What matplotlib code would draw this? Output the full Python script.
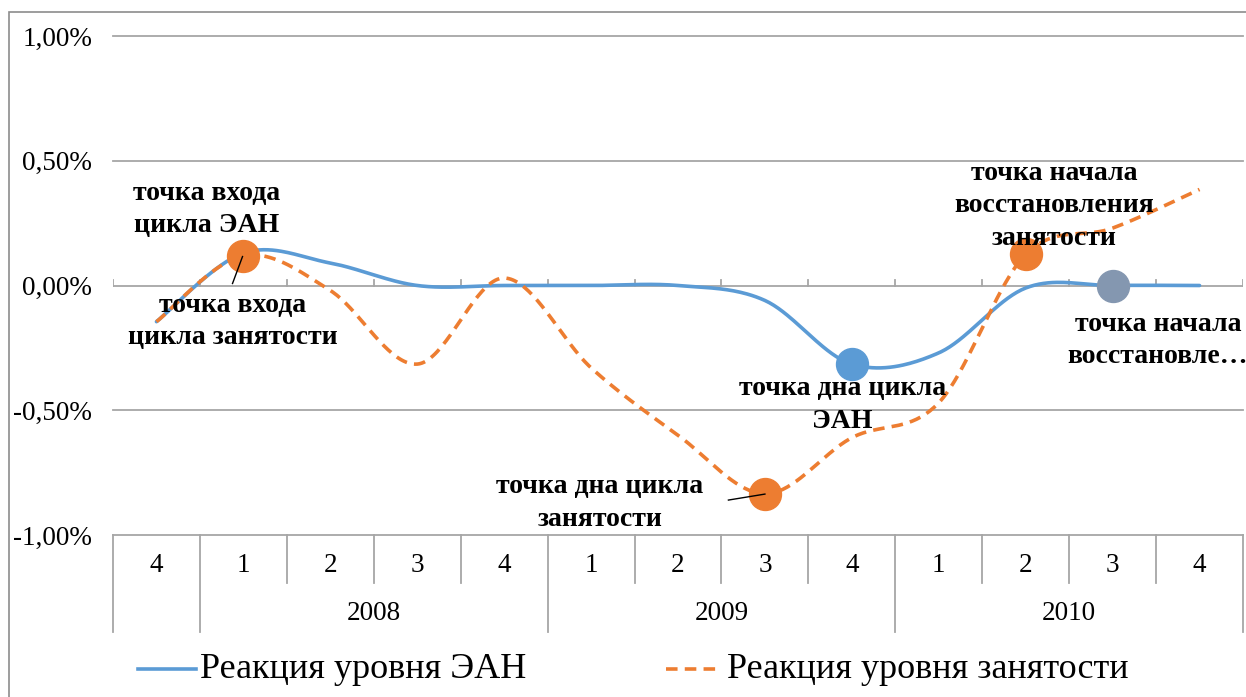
import numpy as np
import matplotlib
matplotlib.use("Agg")
import matplotlib.pyplot as plt
from matplotlib.patches import Rectangle
from matplotlib.lines import Line2D
import matplotlib.transforms as mtransforms

# quarters: 4q 2007, 2008-2010
quarters = ["4", "1", "2", "3", "4", "1", "2", "3", "4", "1", "2", "3", "4"]
years = ["2008", "2009", "2010"]
year_spans = [(1, 4), (5, 8), (9, 12)]  # first/last category index for each year

# values in percent
ean = [-0.145, 0.13, 0.09, 0.0, 0.0, 0.0, 0.0, -0.06, -0.315, -0.27, -0.01, 0.0, 0.0]
empl = [-0.145, 0.12, -0.02, -0.315, 0.03, -0.33, -0.60, -0.835, -0.61, -0.47, 0.125, 0.23, 0.385]

blue = "#5B9BD5"
orange = "#ED7D31"
grey_marker = "#8497B0"
grid_c = "#A6A6A6"

plt.rcParams['font.family'] = ['Liberation Serif', 'DejaVu Serif']


def smooth(y, n=40):
    # Excel-like smoothed line (Catmull-Rom bezier)
    x = np.arange(len(y), dtype=float)
    pts = np.column_stack([x, np.asarray(y, dtype=float)])
    out = []
    for i in range(len(pts) - 1):
        p0 = pts[max(i - 1, 0)]
        p1 = pts[i]
        p2 = pts[i + 1]
        p3 = pts[min(i + 2, len(pts) - 1)]
        c1 = p1 + (p2 - p0) / 6
        c2 = p2 - (p3 - p1) / 6
        t = np.linspace(0, 1, n)[:, None]
        seg = (1 - t) ** 3 * p1 + 3 * (1 - t) ** 2 * t * c1 + 3 * (1 - t) * t ** 2 * c2 + t ** 3 * p2
        out.append(seg if i == 0 else seg[1:])
    s = np.vstack(out)
    return s[:, 0], s[:, 1]


fig = plt.figure(figsize=(12.46, 6.97), dpi=100)
ax = fig.add_axes([113 / 1246, 1 - 535 / 697, 1130 / 1246, 499 / 697])
n = len(quarters)
ax.set_xlim(-0.5, n - 0.5)
ax.set_ylim(-1.0, 1.0)
for s in ax.spines.values():
    s.set_visible(False)

# gridlines
for g in [1.0, 0.5, -0.5, -1.0]:
    ax.axhline(g, color=grid_c, lw=1.3, zorder=1, clip_on=False)
ax.axhline(0, color=grid_c, lw=1.3, zorder=1)
for b in np.arange(-0.5, n, 1.0):
    ax.plot([b, b], [0, 0.022], color=grid_c, lw=1.3, zorder=1)

ax.set_yticks([1.0, 0.5, 0.0, -0.5, -1.0])
ax.set_yticklabels([f"{v:.2f}%".replace(".", ",") for v in [1.0, 0.5, 0.0, -0.5, -1.0]], fontsize=19.5)
ax.tick_params(axis='y', length=0, pad=15)
ax.set_xticks([])

# category table under the plot
tr = mtransforms.blended_transform_factory(ax.transData, ax.transAxes)
q_bot = -48 / 499
y_bot = -97 / 499
year_edges = [-0.5, 0.5] + [e + 0.5 for _, e in year_spans]
for b in np.arange(-0.5, n, 1.0):
    lo = y_bot if b in year_edges else q_bot
    ax.add_line(Line2D([b, b], [0, lo], transform=tr, color=grid_c, lw=1.3, clip_on=False))
for i, q in enumerate(quarters):
    ax.text(i, -31 / 499, q, transform=tr, ha='center', va='center', fontsize=19.5)
for yr, (a, b) in zip(years, year_spans):
    ax.text((a + b) / 2, -79 / 499, yr, transform=tr, ha='center', va='center', fontsize=19.5)

# lines
xs, ys = smooth(ean)
ax.plot(xs, ys, color=blue, lw=2.6, zorder=3, solid_capstyle='round')
xs, ys = smooth(empl)
ax.plot(xs, ys, color=orange, lw=2.6, dashes=(3.2, 2.0), zorder=4)

# highlighted points
ms = 23
ax.plot(1, empl[1], 'o', color=orange, ms=ms, zorder=5)
ax.plot(7, empl[7], 'o', color=orange, ms=ms, zorder=5)
ax.plot(10, empl[10], 'o', color=orange, ms=ms, zorder=5)
ax.plot(8, ean[8], 'o', color=blue, ms=ms, zorder=5)
ax.plot(11, ean[11], 'o', color=grey_marker, ms=ms, zorder=5)

# labels
kw = dict(ha='center', va='center', fontsize=20, fontweight='bold', linespacing=1.4, zorder=6)
ax.text(0.575, 0.304, "точка входа\nцикла ЭАН", **kw)
ax.text(0.875, -0.144, "точка входа\nцикла занятости", **kw)
ax.text(5.10, -0.872, "точка дна цикла\nзанятости", **kw)
ax.text(7.89, -0.48, "точка дна цикла\nЭАН", **kw)
ax.text(10.33, 0.32, "точка начала\nвосстановления\nзанятости", **kw)
ax.text(11.52, -0.22, "точка начала\nвосстановле…", **kw)
ax.plot([0.875, 0.99], [0.008, 0.116], color='black', lw=1, zorder=6)
ax.plot([6.58, 7.0], [-0.86, -0.836], color='black', lw=1, zorder=6)

# legend
fy = 1 - 669 / 697
fig.add_artist(Line2D([138 / 1246, 196 / 1246], [fy, fy], color=blue, lw=2.6))
fig.text(200 / 1246, fy, "Реакция уровня ЭАН", fontsize=26, va='center', ha='left')
fig.add_artist(Line2D([666 / 1246, 722 / 1246], [fy, fy], color=orange, lw=2.6, dashes=(3.2, 2.0)))
fig.text(727 / 1246, fy, "Реакция уровня занятости", fontsize=26, va='center', ha='left')

# chart frame
fig.add_artist(Rectangle((9 / 1246, -0.1), 1.2, 1.1 - 12.5 / 697, transform=fig.transFigure,
                         fill=False, edgecolor='#8C8C8C', lw=1.2))

fig.savefig("out.png", dpi=100)
